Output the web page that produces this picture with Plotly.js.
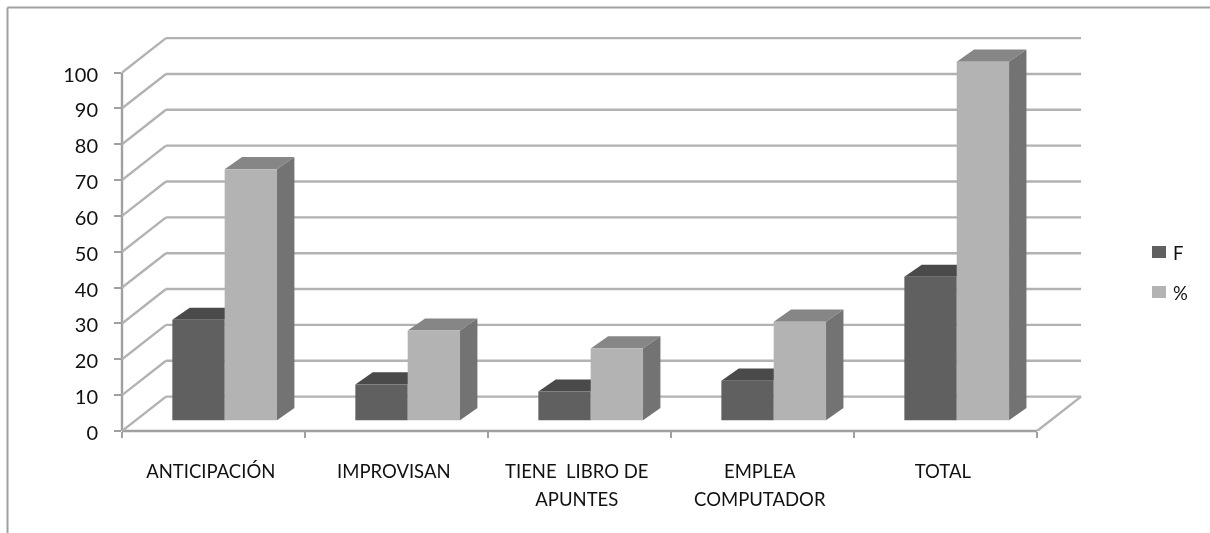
<!DOCTYPE html>
<html>
<head>
<meta charset="utf-8">
<script src="https://cdn.plot.ly/plotly-3.0.1.min.js"></script>
<style>html,body{margin:0;padding:0;background:#fff}#chart{width:1210px;height:533px;filter:blur(0.4px)}</style>
</head>
<body>
<div id="chart"></div>
<script>
const categories = ['ANTICIPACIÓN', 'IMPROVISAN', 'TIENE\u00a0 LIBRO DE', 'EMPLEA', 'TOTAL'];
const secondLines = ['', '', 'APUNTES', 'COMPUTADOR', ''];
const seriesF = [28, 10, 8, 11, 40];
const seriesPct = [70, 25, 20, 27.5, 100];
const seriesNames = ['F', '%'];
const yTicks = [0, 10, 20, 30, 40, 50, 60, 70, 80, 90, 100];

const font = 'Lato, "Open Sans", sans-serif';
const gridColor = '#b2b2b2', axisColor = '#a0a0a0';

// oblique projection: wall depth in axis units
const wallX = 0.2404, wallY = 9.6;
const xMax = 5.262, yMax = 110.74;
// bar placement in axis units
const barStart = 0.275, barWidth = 0.286;
const barBase = 3.0, barDepthX = 0.095, barDepthY = 3.4;

const styles = [
  {front: '#606060', top: '#4a4a4a', side: '#4f4f4f'},
  {front: '#b3b3b3', top: '#868686', side: '#737373'}
];

const line = (x0, y0, x1, y1, color, extra) => Object.assign({
  type: 'line', layer: 'below', xref: 'x', yref: 'y', x0, y0, x1, y1,
  line: {color: color, width: 2.4}
}, extra || {});
const poly = (pts, color) => ({
  type: 'path', layer: 'below', xref: 'x', yref: 'y',
  path: 'M' + pts.map(p => p[0] + ',' + p[1]).join('L') + 'Z',
  fillcolor: color, line: {width: 0}
});

const shapes = [];
// wall gridlines
yTicks.forEach(v => {
  if (v > 0) {
    shapes.push(line(0, v, wallX, v + wallY, gridColor));
  }
  const right = categories.length + wallX;
  shapes.push(line(wallX, v + wallY, right, v + wallY, gridColor));
});
// floor edges
shapes.push(line(0, 0, wallX, wallY, gridColor));
shapes.push(line(categories.length, 0, categories.length + wallX, wallY, gridColor));
// axis lines
shapes.push({type: 'line', layer: 'below', xref: 'x', yref: 'paper', x0: 0, x1: categories.length, y0: 0, y1: 0, line: {color: axisColor, width: 2.4}});
shapes.push({type: 'line', layer: 'below', xref: 'paper', yref: 'y', x0: 0, x1: 0, y0: 0, y1: 100, line: {color: axisColor, width: 2.4}});

// bar top and side faces
[seriesF, seriesPct].forEach((vals, s) => {
  vals.forEach((v, i) => {
    const x0 = i + barStart + s * barWidth, x1 = x0 + barWidth, t = barBase + v;
    shapes.push(poly([[x0, t], [x0 + barDepthX, t + barDepthY], [x1 + barDepthX, t + barDepthY], [x1, t]], styles[s].top));
    shapes.push(poly([[x1, barBase], [x1 + barDepthX, barBase + barDepthY], [x1 + barDepthX, t + barDepthY], [x1, t]], styles[s].side));
  });
});

// chart frame (left and top edges only)
const pl = 122, pr = 1085, pt = 34, pb = 431;
const px = x => (x - pl) / (pr - pl), py = y => (pb - y) / (pb - pt);
shapes.push({type: 'line', xref: 'paper', yref: 'paper', x0: px(7.5), x1: px(1210), y0: py(7.5), y1: py(7.5), line: {color: '#a0a0a0', width: 2}});
shapes.push({type: 'line', xref: 'paper', yref: 'paper', x0: px(7.5), x1: px(7.5), y0: py(7.5), y1: py(533), line: {color: '#a0a0a0', width: 2}});

// legend
const annotations = [];
seriesNames.forEach((n, s) => {
  const yc = 252 + s * 40;
  shapes.push({type: 'rect', xref: 'paper', yref: 'paper', x0: px(1152), x1: px(1166), y0: py(yc - 6), y1: py(yc + 6), fillcolor: styles[s].front, line: {width: 0}});
  annotations.push({xref: 'paper', yref: 'paper', x: px(1172), y: py(yc + 1), xanchor: 'left', yanchor: 'middle', text: n, showarrow: false, font: {family: font, size: 18.5, color: '#111'}, borderpad: 0});
});

const barTrace = (vals, s) => ({
  type: 'bar', name: seriesNames[s],
  x: vals.map((_, i) => i + barStart + (s + 0.5) * barWidth),
  y: vals, base: vals.map(() => barBase), width: barWidth,
  marker: {color: styles[s].front, line: {width: 0}},
  showlegend: false, hoverinfo: 'y'
});
// second line of the two-line category labels, on a matching overlay axis
const labelAnchor = vals => vals.map((_, i) => i + 0.485);
const traces = [barTrace(seriesF, 0), barTrace(seriesPct, 1),
  {type: 'scatter', mode: 'none', x: [0, xMax], y: [0, 0], xaxis: 'x2', showlegend: false, hoverinfo: 'skip'}];

const layout = {
  width: 1210, height: 533, paper_bgcolor: '#fff', plot_bgcolor: 'rgba(0,0,0,0)',
  margin: {l: pl, r: 1210 - pr, t: pt, b: 533 - pb, pad: 0},
  barmode: 'overlay', showlegend: false,
  font: {family: font, size: 18.5, color: '#111'},
  xaxis: {
    range: [0, xMax], showgrid: false, zeroline: false, showline: false,
    tickmode: 'array', tickvals: labelAnchor(categories), ticktext: categories,
    ticks: '', ticklabelstandoff: 27, tickangle: 0,
    tickfont: {family: font, size: 18.5, color: '#111'},
    minor: {tickmode: 'array', tickvals: [0, 1, 2, 3, 4, 5], ticks: 'outside', ticklen: 6, tickwidth: 2, tickcolor: axisColor, showgrid: false}
  },
  xaxis2: {
    range: [0, xMax], overlaying: 'x', anchor: 'y', side: 'bottom', showgrid: false, zeroline: false, showline: false,
    tickmode: 'array', tickvals: labelAnchor(secondLines), ticktext: secondLines,
    ticks: '', ticklabelstandoff: 55, tickangle: 0,
    tickfont: {family: font, size: 18.5, color: '#111'}
  },
  yaxis: {
    range: [0, yMax], showgrid: false, zeroline: false, showline: false,
    tickmode: 'array', tickvals: yTicks, ticktext: yTicks.map(String),
    ticks: 'outside', ticklen: 7, tickwidth: 2, tickcolor: axisColor, ticklabelstandoff: 12, ticklabelshift: 2,
    tickfont: {family: font, size: 20, color: '#111'}
  },
  shapes, annotations
};
Plotly.newPlot('chart', traces, layout, {displayModeBar: false, responsive: false});
</script>
</body>
</html>
